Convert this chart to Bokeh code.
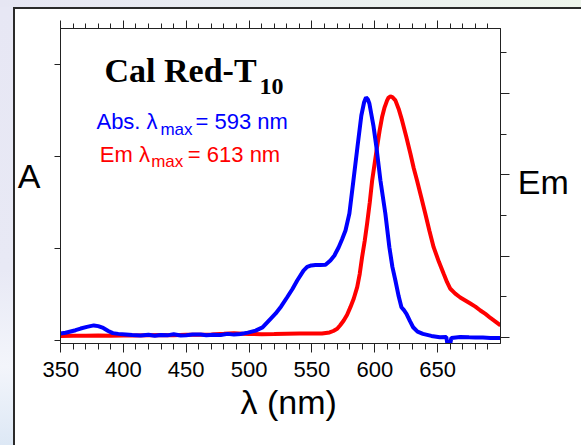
from bokeh.plotting import figure
from bokeh.models import Range1d, LinearAxis, FixedTicker, Label, Spacer, Title
from bokeh.layouts import row, column
from bokeh.embed import file_html
from bokeh.resources import INLINE

# ---------------- data ----------------
abs_nm = [350, 354, 358, 362, 366, 371, 376.5, 380, 384, 388, 391.6, 396, 401.9, 407, 413.8,
          420, 425, 429.7, 435, 440, 445.6, 450, 455, 461.5, 466, 472, 477.4, 483, 488, 493.2,
          499, 505.2, 510.7, 517.1, 521.0, 525.5, 530.3, 534.5, 538.3, 543.3, 546.2, 549.5,
          552.8, 556.5, 560.8, 564.7, 567.9, 571.3, 574, 576.7, 579.8, 583.0, 586.2, 589.3,
          591.5, 593.0, 594.5, 595.7, 598.9, 601.3, 604.5, 608.4, 611.6, 614, 616.4, 619,
          621.2, 623.2, 625.2, 628, 630.5, 634, 638.3, 645, 651.7, 656.9, 657.7, 660.1, 660.9,
          668.0, 675, 680.0, 686, 691.9, 700]
abs_a = [0.038, 0.042, 0.049, 0.056, 0.065, 0.074, 0.082, 0.078, 0.068, 0.052, 0.040, 0.036,
         0.033, 0.030, 0.027, 0.031, 0.026, 0.030, 0.028, 0.034, 0.027, 0.029, 0.032, 0.033,
         0.028, 0.031, 0.030, 0.036, 0.032, 0.035, 0.043, 0.054, 0.071, 0.118, 0.146, 0.185,
         0.235, 0.280, 0.326, 0.380, 0.400, 0.408, 0.410, 0.410, 0.412, 0.435, 0.462, 0.507,
         0.550, 0.598, 0.690, 0.870, 1.051, 1.223, 1.295, 1.321, 1.310, 1.288, 1.168, 1.051,
         0.870, 0.690, 0.507, 0.400, 0.326, 0.240, 0.181, 0.165, 0.145, 0.105, 0.072, 0.048,
         0.036, 0.025, 0.018, 0.019, -0.016, -0.016, 0.014, 0.019, 0.017, 0.016, 0.016, 0.014,
         0.014]

em_nm = [350, 360, 370, 380, 390, 400, 410, 420, 430, 440, 450, 460, 470, 480, 488, 495, 500,
         510, 520, 530, 540, 550, 558, 564, 567, 570.1, 572.5, 575.3, 578, 580.6, 583.3, 586.0,
         588, 589.9, 592, 593.9, 596, 597.9, 600, 601.8, 603.8, 605.8, 607.8, 609.8, 611, 612.4,
         614, 616.4, 619, 621.7, 625, 628.3, 631, 633.6, 637, 640.2, 643.5, 646.8, 651, 654.8,
         657.5, 660.1, 664, 668.0, 672, 676.0, 680, 684.0, 688, 692, 696, 700]
em_i = [0.018, 0.020, 0.022, 0.024, 0.022, 0.025, 0.024, 0.028, 0.030, 0.029, 0.033, 0.035,
        0.038, 0.045, 0.053, 0.047, 0.044, 0.040, 0.043, 0.047, 0.050, 0.049, 0.050, 0.062,
        0.080, 0.107, 0.150, 0.209, 0.280, 0.373, 0.480, 0.619, 0.780, 0.988, 1.190, 1.402,
        1.660, 1.931, 2.150, 2.341, 2.540, 2.710, 2.830, 2.915, 2.950, 2.964, 2.955, 2.915,
        2.810, 2.669, 2.470, 2.263, 2.080, 1.931, 1.720, 1.522, 1.310, 1.111, 0.930, 0.783,
        0.680, 0.599, 0.540, 0.492, 0.455, 0.418, 0.380, 0.332, 0.290, 0.240, 0.195, 0.148]

x_ticks = [350, 400, 450, 500, 550, 600, 650]
x_minor = [360, 370, 380, 390, 410, 420, 430, 440, 460, 470, 480, 490, 510, 520, 530, 540,
           560, 570, 580, 590, 610, 620, 630, 640, 660, 670, 680, 690]
a_ticks = [0, 0.5, 1.0, 1.5]
em_ticks = [0, 1, 2, 3]
em_minor = [0.5, 1.5, 2.5, 3.5]

SANS = "Liberation Sans"
SERIF = "Liberation Serif"
DARK = "#222222"
H = 436
A_RANGE = (-0.0163, 1.6957)
TOP, BOTTOM = 19, 102


def side_panel(width):
    f = figure(width=width, height=H, output_backend="svg", toolbar_location=None, title=None,
               x_range=Range1d(0, width), y_range=Range1d(*A_RANGE),
               x_axis_location=None, y_axis_location=None,
               min_border_left=0, min_border_right=0,
               min_border_top=TOP, min_border_bottom=BOTTOM,
               background_fill_color="white", border_fill_color="white")
    f.grid.visible = False
    f.outline_line_color = None
    return f


p = figure(width=470, height=H, output_backend="svg", toolbar_location=None, title=None,
           x_range=Range1d(350, 700), y_range=Range1d(*A_RANGE),
           x_axis_location=None, y_axis_location=None,
           min_border_left=18, min_border_right=12, min_border_top=TOP, min_border_bottom=BOTTOM,
           background_fill_color="white", border_fill_color="white")
p.extra_y_ranges = {"em": Range1d(-0.0738, 3.799)}
p.grid.visible = False
p.outline_line_color = DARK
p.outline_line_width = 1


def no_labels(ticks):
    return {t: "" for t in ticks}


xb = LinearAxis(ticker=FixedTicker(ticks=x_ticks, minor_ticks=x_minor),
                major_tick_in=0, major_tick_out=9, minor_tick_in=0, minor_tick_out=6,
                major_label_text_font=SANS, major_label_text_font_size="22px",
                major_label_text_color="black", major_label_standoff=9,
                axis_line_color=DARK, major_tick_line_color=DARK, minor_tick_line_color=DARK)
p.add_layout(xb, "below")
p.add_layout(Title(text="λ (nm)", align="left", offset=180, standoff=3,
                   text_font=SANS, text_font_size="34px", text_font_style="normal",
                   text_color="black"), "below")

xt = LinearAxis(ticker=FixedTicker(ticks=x_ticks, minor_ticks=x_minor),
                major_tick_in=0, major_tick_out=8, minor_tick_in=0, minor_tick_out=5,
                major_label_overrides=no_labels(x_ticks), major_label_text_font_size="0px",
                major_label_standoff=0,
                axis_line_color=DARK, major_tick_line_color=DARK, minor_tick_line_color=DARK)
p.add_layout(xt, "above")

yl = LinearAxis(ticker=FixedTicker(ticks=a_ticks, minor_ticks=[]),
                major_tick_in=0, major_tick_out=6, minor_tick_out=0,
                major_label_overrides=no_labels(a_ticks), major_label_text_font_size="0px",
                major_label_standoff=0,
                axis_line_color=DARK, major_tick_line_color=DARK)
p.add_layout(yl, "left")

yr = LinearAxis(y_range_name="em", ticker=FixedTicker(ticks=em_ticks, minor_ticks=em_minor),
                major_tick_in=0, major_tick_out=9, minor_tick_in=0, minor_tick_out=6,
                major_label_overrides=no_labels(em_ticks), major_label_text_font_size="0px",
                major_label_standoff=0,
                axis_line_color=DARK, major_tick_line_color=DARK, minor_tick_line_color=DARK)
p.add_layout(yr, "right")

# curves
p.line(em_nm, em_i, y_range_name="em", line_color="#ff0000", line_width=4)
p.line(abs_nm, abs_a, line_color="#0000ff", line_width=4)

# title
p.add_layout(Label(x=385.0, y=1.469, text="Cal Red-T", text_align="left",
                   text_baseline="alphabetic", text_font=SERIF, text_font_style="bold",
                   text_font_size="34px", text_color="black"))
p.add_layout(Label(x=508.3, y=1.380, text="10", text_align="left",
                   text_baseline="alphabetic", text_font=SERIF, text_font_style="bold",
                   text_font_size="24px", text_color="black"))

# annotations
for txt, x, y, size in [("Abs. λ", 378.6, 1.188, "22px"), ("max", 429.5, 1.147, "17px"),
                        ("= 593 nm", 457.4, 1.188, "22px")]:
    p.add_layout(Label(x=x, y=y, text=txt, text_align="left", text_baseline="alphabetic",
                       text_font=SANS, text_font_size=size, text_color="#0000ff"))
for txt, x, y, size in [("Em λ", 381.3, 1.012, "22px"), ("max", 422.1, 0.971, "17px"),
                        ("= 613 nm", 451.3, 1.012, "22px")]:
    p.add_layout(Label(x=x, y=y, text=txt, text_align="left", text_baseline="alphabetic",
                       text_font=SANS, text_font_size=size, text_color="#ff0000"))

# side axis titles
fa = side_panel(27)
fa.add_layout(Label(x=2.3, y=0.896, text="A", text_align="left", text_baseline="alphabetic",
                    text_font=SANS, text_font_size="34px", text_color="black"))
fe = side_panel(69)
fe.add_layout(Label(x=5.3, y=0.862, text="Em", text_align="left", text_baseline="alphabetic",
                    text_font=SANS, text_font_size="34px", text_color="black"))

# slide background and box edges
top_strip = Spacer(width=581, height=7,
                   styles={"background": "linear-gradient(to right, #e6e6f3, #eaeff0 55%, #eef5ec)"})
top_edge = Spacer(width=566, height=2, styles={"background-color": "#2a2a2a"})
left_strip = Spacer(width=13, height=H + 2,
                    styles={"background": "linear-gradient(to bottom, #e7e7f4 0%, #e8e9f5 60%, "
                                          "#f3f5fb 82%, #dde8f5 100%)"})
left_edge = Spacer(width=2, height=H + 2, styles={"background-color": "#2a2a2a"})
layout = column(top_strip,
                row(left_strip, left_edge,
                    column(top_edge, row(fa, p, fe, spacing=0), spacing=0),
                    spacing=0),
                spacing=0)

open("out.html", "w").write(file_html(layout, INLINE))
